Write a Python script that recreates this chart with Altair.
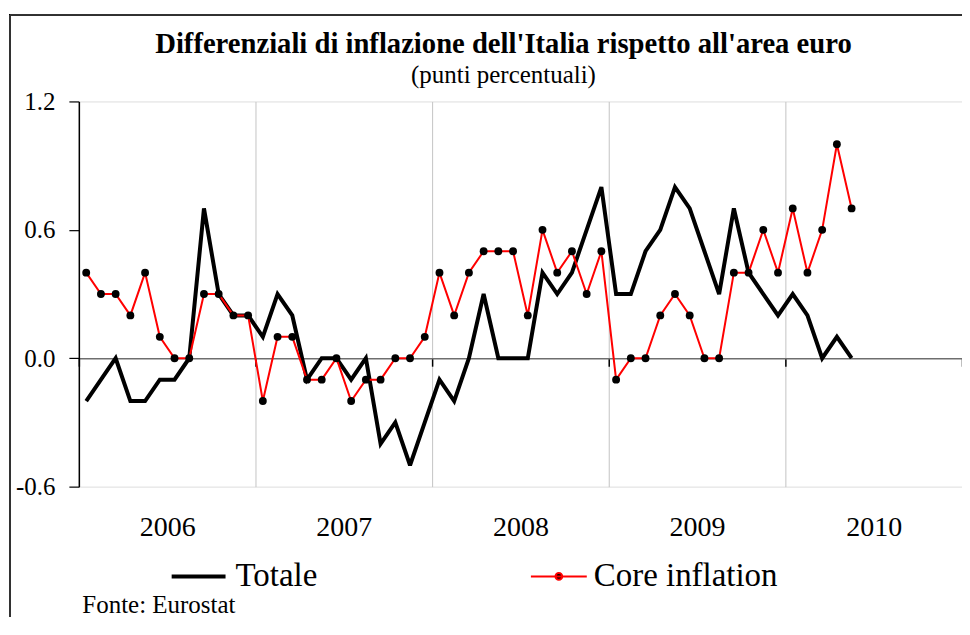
import altair as alt
import pandas as pd

# Monthly data, Jan 2006 - May 2010
start_year = 2006
totale = [-0.2, -0.1, 0.0, -0.2, -0.2, -0.1, -0.1, 0.0, 0.7, 0.3, 0.2, 0.2,
          0.1, 0.3, 0.2, -0.1, 0.0, 0.0, -0.1, 0.0, -0.4, -0.3, -0.5, -0.3,
          -0.1, -0.2, 0.0, 0.3, 0.0, 0.0, 0.0, 0.4, 0.3, 0.4, 0.6, 0.8,
          0.3, 0.3, 0.5, 0.6, 0.8, 0.7, 0.5, 0.3, 0.7, 0.4, 0.3, 0.2,
          0.3, 0.2, 0.0, 0.1, 0.0]
core = [0.4, 0.3, 0.3, 0.2, 0.4, 0.1, 0.0, 0.0, 0.3, 0.3, 0.2, 0.2,
        -0.2, 0.1, 0.1, -0.1, -0.1, 0.0, -0.2, -0.1, -0.1, 0.0, 0.0, 0.1,
        0.4, 0.2, 0.4, 0.5, 0.5, 0.5, 0.2, 0.6, 0.4, 0.5, 0.3, 0.5,
        -0.1, 0.0, 0.0, 0.2, 0.3, 0.2, 0.0, 0.0, 0.4, 0.4, 0.6, 0.4,
        0.7, 0.4, 0.6, 1.0, 0.7]
series_names = ["Totale", "Core inflation"]
year_ticks = [0, 12, 24, 36, 48, 60]
y_ticks = [-0.6, 0.0, 0.6, 1.2]

n = len(totale)
df = pd.DataFrame({
    "m": [i + 0.5 for i in range(n)],
    "totale": totale,
    "core": core,
    "s_tot": [series_names[0]] * n,
    "s_core": [series_names[1]] * n,
})

FONT = "Liberation Serif"

x_enc = alt.X(
    "m:Q",
    scale=alt.Scale(domain=[0, 60], nice=False, zero=False),
    axis=alt.Axis(
        values=year_ticks,
        labelExpr=f"datum.value < 60 ? '' + ({start_year} + datum.value / 12) : ''",
        labelOffset=88.5, labelFlush=False, labelOverlap=False,
        labelFont=FONT, labelFontSize=28, labelColor="black",
        labelPadding=148,
        offset=-128.7,
        domainColor="#6e6e6e", domainWidth=1.5,
        tickColor="black", tickSize=8, tickWidth=1.5,
        grid=True, gridColor="#c4c4c4", gridWidth=1,
        title="Fonte: Eurostat",
        titleFont=FONT, titleFontSize=25, titleFontWeight="normal",
        titleColor="black", titleAlign="left", titleBaseline="alphabetic",
        titleX=3, titleY=254.7,
    ),
)

y_scale = alt.Scale(domain=[-0.6, 1.2], nice=False, zero=False)
y_axis = alt.Axis(
    values=y_ticks,
    labelExpr="replace(format(datum.value, '.1f'), '\u2212', '-')",
    labelFont=FONT, labelFontSize=25, labelColor="black", labelPadding=14,
    domainColor="black", domainWidth=1.5,
    tickColor="black", tickSize=10, tickWidth=1.2,
    grid=False, title=None,
)

base = alt.Chart(df)

line_tot = base.mark_line(strokeWidth=4, strokeJoin="miter", strokeMiterLimit=3).encode(
    x=x_enc,
    y=alt.Y("totale:Q", scale=y_scale, axis=y_axis),
    color=alt.Color(
        "s_tot:N",
        scale=alt.Scale(domain=[series_names[0]], range=["black"]),
        legend=alt.Legend(
            orient="none", legendX=91, legendY=447, title=None,
            symbolType="stroke", symbolSize=2916, symbolStrokeWidth=4,
            labelFont=FONT, labelFontSize=33, labelColor="black",
            labelOffset=8, padding=0, labelLimit=0,
        ),
    ),
)

core_path = ("M-1,0L1,0M-0.12,0A0.12,0.12,0,1,1,0.12,0"
             "A0.12,0.12,0,1,1,-0.12,0Z")
line_core = base.mark_line(strokeWidth=2).encode(
    x=x_enc,
    y=alt.Y("core:Q", scale=y_scale, axis=y_axis),
    color=alt.Color(
        "s_core:N",
        scale=alt.Scale(domain=[series_names[1]], range=["red"]),
        legend=alt.Legend(
            orient="none", legendX=452, legendY=447, title=None,
            symbolType=core_path, symbolSize=3136, symbolStrokeWidth=2,
            symbolFillColor="black",
            labelFont=FONT, labelFontSize=33, labelColor="black",
            labelOffset=6, padding=0, labelLimit=0,
        ),
    ),
)

pts_core = base.mark_circle(size=62, color="black", opacity=1).encode(
    x=x_enc,
    y=alt.Y("core:Q", scale=y_scale, axis=y_axis),
)

frame_left = alt.Chart(df).mark_rule(color="#333333", strokeWidth=1.5).encode(
    x=alt.value(-69), y=alt.value(-87), y2=alt.value(800)
)
frame_top = alt.Chart(df).mark_rule(color="#333333", strokeWidth=1.5).encode(
    x=alt.value(-69), x2=alt.value(1100), y=alt.value(-87)
)

chart = alt.layer(
    frame_left, frame_top, line_tot, line_core, pts_core
).resolve_scale(
    color="independent"
).properties(
    width=885,
    height=386,
    padding={"left": 71, "top": 93, "right": 0, "bottom": 130},
    autosize=alt.AutoSizeParams(type="none"),
    title=alt.TitleParams(
        text="Differenziali di inflazione dell'Italia rispetto all'area euro",
        subtitle="(punti percentuali)",
        font=FONT, fontSize=28.7, fontWeight="bold", color="black",
        subtitleFont=FONT, subtitleFontSize=25, subtitleColor="black",
        subtitlePadding=4,
        anchor="middle", frame="group", dx=-17, offset=-74,
    ),
).configure_view(
    stroke="#8a8a8a", strokeWidth=1.5
).configure(
    background="white"
)

chart.save("out.html", embed_options={"renderer": "svg", "actions": False})
